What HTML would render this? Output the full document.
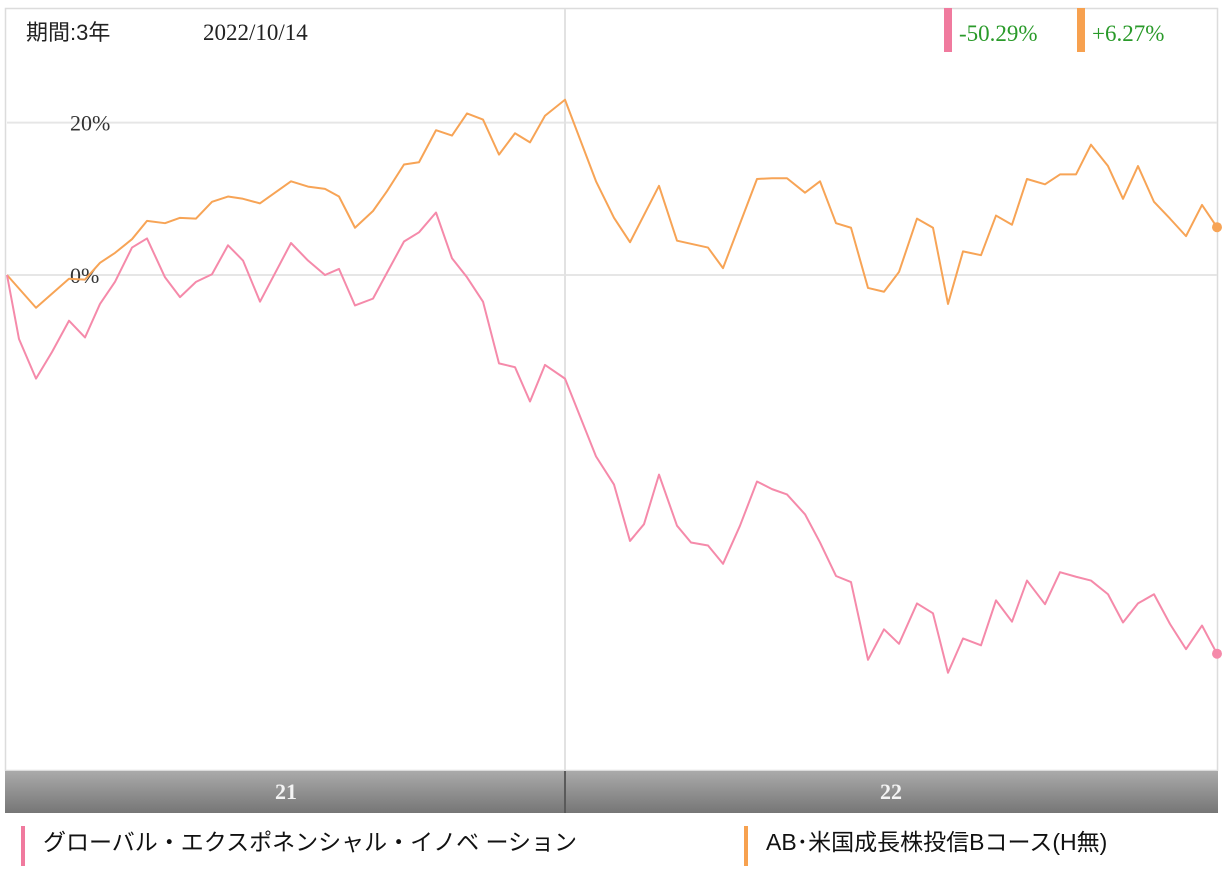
<!DOCTYPE html>
<html><head><meta charset="utf-8">
<style>
body{margin:0;background:#fff;width:1229px;height:895px;overflow:hidden;font-family:"Liberation Serif","Noto Serif CJK SC",serif;}
svg{position:absolute;left:0;top:0}
.legend{position:absolute;font-family:"Liberation Sans","Noto Sans CJK JP",sans-serif;font-size:23px;color:#111;top:826px;height:40px;line-height:32px;padding-left:18px}
</style></head><body>
<svg id="chart" width="1229" height="895"></svg>
<div class="legend" style="left:21px;border-left:4px solid #f07a9e">グローバル・エクスポネンシャル・イノベ ーション</div>
<div class="legend" style="left:744px;border-left:4px solid #f7a14f">AB･米国成長株投信Bコース(H無)</div>
<script>
const pinkDays=[0,12,29,45,62,78,93,108,125,140,158,173,189,205,221,236,253,284,301,318,332,348,366,380,397,412,429,445,460,476,492,508,523,538,558,589,607,623,637,652,670,684,701,716,733,750,765,780,798,813,829,844,861,877,892,910,926,941,956,974,989,1005,1020,1038,1053,1069,1084,1101,1116,1131,1147,1163,1179,1195,1210];
const pinkValues=[0,-8.4,-13.6,-10.1,-6.0,-8.2,-3.8,-0.9,3.6,4.8,-0.3,-2.9,-0.9,0.1,3.9,1.9,-3.5,4.2,1.9,0,0.8,-4.0,-3.1,0.3,4.4,5.6,8.2,2.2,-0.3,-3.5,-11.6,-12.1,-16.6,-11.8,-13.6,-23.8,-27.5,-34.9,-32.7,-26.2,-32.9,-35.1,-35.5,-37.9,-32.9,-27.1,-28.1,-28.8,-31.4,-35.1,-39.5,-40.3,-50.5,-46.5,-48.4,-43.1,-44.4,-52.2,-47.7,-48.6,-42.7,-45.5,-40.1,-43.2,-39.0,-39.6,-40.1,-41.9,-45.6,-43.1,-41.9,-45.8,-49.1,-46.0,-49.7];
const orangeDays=[0,29,62,78,93,108,125,140,158,173,189,205,221,236,253,284,301,318,332,348,366,380,397,412,429,445,460,476,492,508,523,538,558,589,607,623,652,670,701,716,750,765,780,798,813,829,844,861,877,892,910,926,941,956,974,989,1005,1020,1038,1053,1069,1084,1101,1116,1131,1147,1163,1179,1195,1210];
const orangeValues=[0,-4.3,-0.5,-0.6,1.6,2.9,4.7,7.1,6.8,7.5,7.4,9.6,10.3,10.0,9.4,12.3,11.6,11.3,10.3,6.2,8.4,11.0,14.5,14.8,19.0,18.3,21.2,20.4,15.8,18.6,17.4,20.9,23.0,12.3,7.5,4.3,11.7,4.5,3.6,0.9,12.6,12.7,12.7,10.8,12.3,6.8,6.2,-1.7,-2.2,0.4,7.4,6.2,-3.8,3.1,2.6,7.8,6.6,12.6,11.9,13.2,13.2,17.1,14.3,10.0,14.3,9.6,7.4,5.1,9.2,6.27];
const yTicks=[20,0];
const yTickLabels=["20%","0%"];
const yearLabels=["21","22"];
const yearStartDays=[0,558];
const yearEndDays=[558,1210];
const returnLabels=["-50.29%","+6.27%"];

const NS="http://www.w3.org/2000/svg";
const svg=document.getElementById('chart');
const X0=7,X1=1217,DMAX=1210;
const xs=d=>X0+(d/DMAX)*(X1-X0);
const ys=v=>275-v*7.62;
function mk(t,a,p){const e=document.createElementNS(NS,t);for(const k in a)e.setAttribute(k,a[k]);(p||svg).appendChild(e);return e;}

const defs=mk('defs',{});
const g=mk('linearGradient',{id:'axg',x1:0,y1:0,x2:0,y2:1},defs);
mk('stop',{offset:'0','stop-color':'#aaaaaa'},g);mk('stop',{offset:'1','stop-color':'#767676'},g);

const frame=mk('rect',{x:5.5,y:8.5,width:1212,height:762,fill:'#fff',stroke:'#dcdcdc','stroke-width':1.5});



yTicks.forEach((t,i)=>{
  const l=mk('line',{x1:X0,x2:X1,y1:ys(t),y2:ys(t),stroke:'#e6e6e6','stroke-width':2});
  
  
  const tx=mk('text',{x:70,y:ys(t)+8,'font-size':22,fill:'#333'});
  tx.textContent=yTickLabels[i];
  
  
});
const vl=mk('line',{x1:xs(558),x2:xs(558),y1:9,y2:770,stroke:'#e2e2e2','stroke-width':2});



function series(days,vals,color,name){
  const p=mk('polyline',{points:days.map((d,i)=>xs(d)+','+ys(vals[i])).join(' '),fill:'none',stroke:color,'stroke-width':2,'stroke-linejoin':'round'});
  
  
  const n=days.length-1;
  const c=mk('circle',{cx:xs(days[n]),cy:ys(vals[n]),r:5,fill:color});
  
  
}
series(orangeDays,orangeValues,'#f7a456','orange-series');
series(pinkDays,pinkValues,'#f58aaa','pink-series');

const bar=mk('rect',{x:5,y:771,width:1213,height:42,fill:'url(#axg)'});


yearLabels.forEach((lab,i)=>{
  const mid=(xs(yearStartDays[i])+xs(yearEndDays[i]))/2;
  const t=mk('text',{x:mid,y:799,'font-size':22,'font-weight':'bold',fill:'#f4f4f4','text-anchor':'middle'});
  t.textContent=lab;
  
  
});
const bd=mk('line',{x1:xs(558),x2:xs(558),y1:771,y2:813,stroke:'#5a5a5a','stroke-width':2});



const period=mk('text',{x:26,y:40,'font-size':22,fill:'#222','font-family':'"Liberation Sans","Noto Sans CJK JP",sans-serif'});
period.textContent='期間:3年';


const date=mk('text',{x:203,y:40,'font-size':23,fill:'#222'});
date.textContent='2022/10/14';



const legColors=['#f07a9e','#f7a14f'];
const legX=[944,1077];
returnLabels.forEach((lab,i)=>{
  const r=mk('rect',{x:legX[i],y:8,width:8,height:44,fill:legColors[i]});
  
  
  const t=mk('text',{x:legX[i]+15,y:41,'font-size':23,fill:'#2a9a2a'});
  t.textContent=lab;
  
  
});
</script>
</body></html>
